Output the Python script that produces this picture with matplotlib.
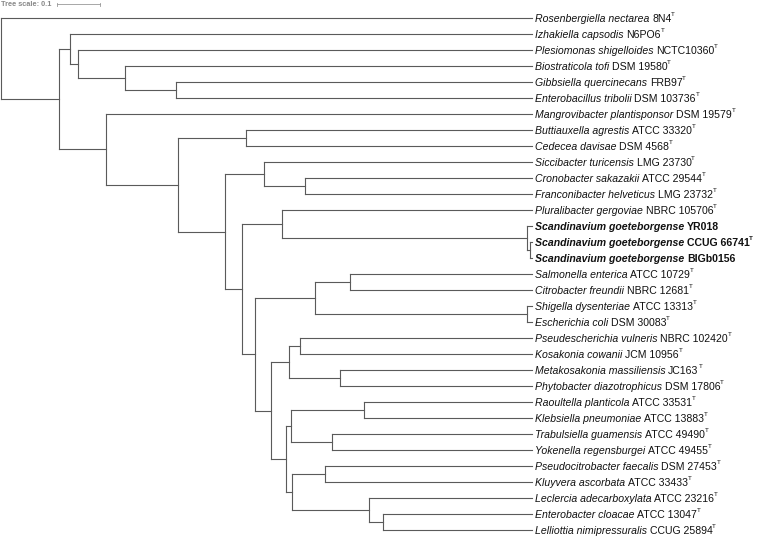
import matplotlib
matplotlib.use('Agg')
import matplotlib.pyplot as plt

# leaves, top to bottom
species = ['Rosenbergiella nectarea', 'Izhakiella capsodis', 'Plesiomonas shigelloides',
           'Biostraticola tofi', 'Gibbsiella quercinecans', 'Enterobacillus tribolii',
           'Mangrovibacter plantisponsor', 'Buttiauxella agrestis', 'Cedecea davisae',
           'Siccibacter turicensis', 'Cronobacter sakazakii', 'Franconibacter helveticus',
           'Pluralibacter gergoviae', 'Scandinavium goeteborgense', 'Scandinavium goeteborgense',
           'Scandinavium goeteborgense', 'Salmonella enterica', 'Citrobacter freundii',
           'Shigella dysenteriae', 'Escherichia coli', 'Pseudescherichia vulneris',
           'Kosakonia cowanii', 'Metakosakonia massiliensis', 'Phytobacter diazotrophicus',
           'Raoultella planticola', 'Klebsiella pneumoniae', 'Trabulsiella guamensis',
           'Yokenella regensburgei', 'Pseudocitrobacter faecalis', 'Kluyvera ascorbata',
           'Leclercia adecarboxylata', 'Enterobacter cloacae', 'Lelliottia nimipressuralis']
strains = ['8N4', 'N6PO6', 'NCTC10360', 'DSM 19580', 'FRB97', 'DSM 103736', 'DSM 19579',
           'ATCC 33320', 'DSM 4568', 'LMG 23730', 'ATCC 29544', 'LMG 23732', 'NBRC 105706',
           'YR018', 'CCUG 66741', 'BIGb0156', 'ATCC 10729', 'NBRC 12681', 'ATCC 13313',
           'DSM 30083', 'NBRC 102420', 'JCM 10956', 'JC163', 'DSM 17806', 'ATCC 33531',
           'ATCC 13883', 'ATCC 49490', 'ATCC 49455', 'DSM 27453', 'ATCC 33433', 'ATCC 23216',
           'ATCC 13047', 'CCUG 25894']
no_type = [13, 15]
bold_leaves = [13, 14, 15]
leaf_depth = 1.235

# internal nodes: children (int = leaf index) and distance from root
node_ids = ['root', 'A', 'B', 'C', 'D', 'E', 'F', 'G', 'H', 'I', 'J', 'K', 'L', 'M', 'N', 'O',
            'P', 'Q', 'S', 'T', 'R', 'U', 'V', 'W', 'X', 'Y', 'Z', 'AA', 'EE', 'BB', 'CC', 'DD']
node_children = [[0, 'A'], ['B', 'F'], [1, 'C'], [2, 'D'], [3, 'E'], [4, 5], [6, 'G'],
                 ['H', 'I'], [7, 8], ['J', 'L'], [9, 'K'], [10, 11], ['M', 'P'], [12, 'N'],
                 [13, 'O'], [14, 15], ['Q', 'R'], ['S', 'T'], [16, 17], [18, 19], ['U', 'X'],
                 ['V', 'W'], [20, 21], [22, 23], ['Y', 'EE'], ['Z', 'AA'], [24, 25], [26, 27],
                 ['BB', 'CC'], [28, 29], [30, 'DD'], [31, 32]]
node_depth = [0.000, 0.135, 0.160, 0.179, 0.288, 0.407, 0.244, 0.412, 0.570, 0.521, 0.612,
              0.707, 0.560, 0.653, 1.223, 1.230, 0.591, 0.730, 0.812, 1.223, 0.628, 0.670,
              0.695, 0.788, 0.663, 0.674, 0.844, 0.770, 0.677, 0.753, 0.856, 0.888]

tree = dict(zip(node_ids, zip(node_children, node_depth)))
line_col = '#5a5a5a'


def pos(n):
    if isinstance(n, int):
        return leaf_depth, n
    kids, d = tree[n]
    ys = [pos(k)[1] for k in kids]
    return d, (min(ys) + max(ys)) / 2.0


fig = plt.figure(figsize=(7.58, 5.36), dpi=100)
ax = fig.add_axes([0, 0, 1, 1])
ax.set_xlim(-1 / 430.0, 757 / 430.0)
ax.set_ylim(32.375, -1.125)
ax.axis('off')

for n in node_ids:
    kids, d = tree[n]
    cy = [pos(k)[1] for k in kids]
    ax.plot([d, d], [min(cy), max(cy)], color=line_col, lw=0.8, solid_capstyle='projecting')
    for k in kids:
        kd, ky = pos(k)
        ax.plot([d, kd], [ky, ky], color=line_col, lw=0.8, solid_capstyle='projecting')

# labels: italic species, plain strain, superscript T
fig.canvas.draw()
r = fig.canvas.get_renderer()
inv = ax.transData.inverted()
fam = 'Liberation Sans'
fs = 7.6
x0 = ax.transData.transform((leaf_depth, 0))[0] + 3
for i in range(len(species)):
    w = 'bold' if i in bold_leaves else 'normal'
    ypx = ax.transData.transform((0, i))[1]
    t = ax.text(*inv.transform((x0, ypx)), species[i], style='italic', weight=w,
                family=fam, fontsize=fs, va='center_baseline', color='#111111')
    xe = t.get_window_extent(r).x1 + 2.6
    t2 = ax.text(*inv.transform((xe, ypx)), strains[i], weight=w,
                 family=fam, fontsize=fs, va='center_baseline', color='#111111')
    if i not in no_type:
        xe2 = t2.get_window_extent(r).x1 - 0.3
        ax.text(*inv.transform((xe2, ypx + 3.6)), 'T', weight=w, family=fam,
                fontsize=4.5, va='center_baseline', color='#111111')

# tree scale
ax.text(*inv.transform((1, 536 - 4.5)), 'Tree scale: 0.1', family=fam, weight='bold',
        fontsize=5.3, color='#888888', va='center')
bar = [0.130, 0.230]
ax.plot(bar, [-0.85, -0.85], color='#999999', lw=0.6)
for b in bar:
    ax.plot([b, b], [-0.95, -0.75], color='#999999', lw=0.6)

fig.savefig('out.png', dpi=100)
